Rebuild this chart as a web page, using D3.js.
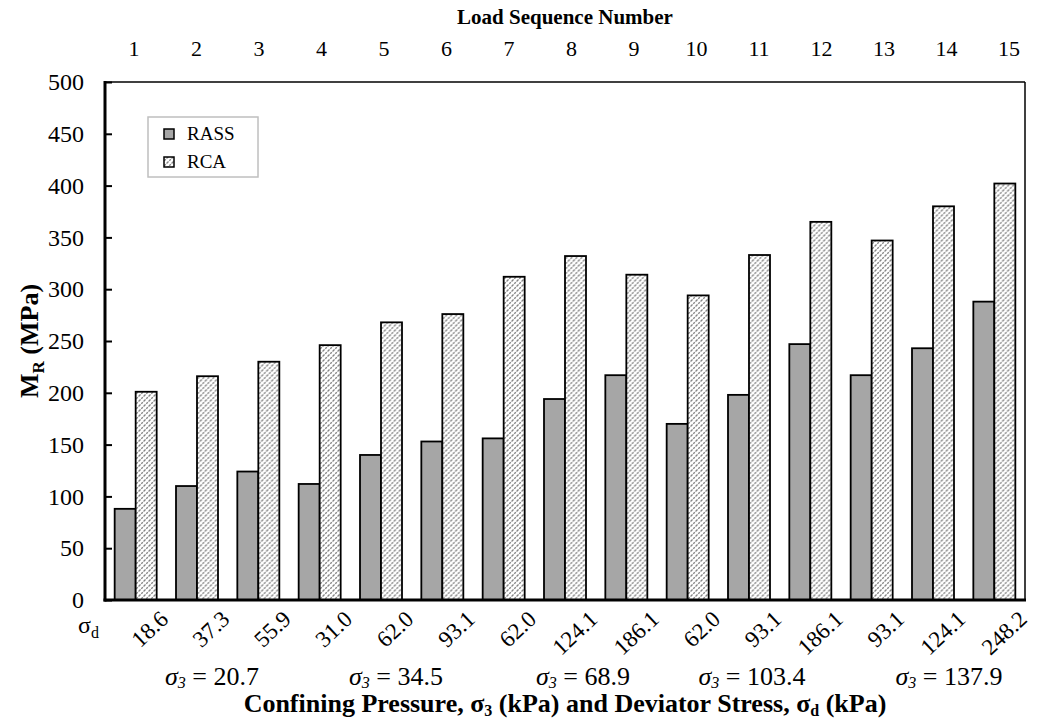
<!DOCTYPE html>
<html>
<head>
<meta charset="utf-8">
<script src="https://cdn.jsdelivr.net/npm/d3@7"></script>
<style>
  body { margin: 0; background: #fff; }
  text { font-family: "Liberation Serif", "Times New Roman", serif; fill: #000; }
</style>
</head>
<body>
<div id="chart"></div>
<script>
// data
const seqNumbers = d3.range(1, 16);
const deviatorStress = ["18.6","37.3","55.9","31.0","62.0","93.1","62.0","124.1","186.1","62.0","93.1","186.1","93.1","124.1","248.2"];
const confining = [
  {label: "20.7", mid: 2, dx: 15},
  {label: "34.5", mid: 5, dx: 15},
  {label: "68.9", mid: 8, dx: 18},
  {label: "103.4", mid: 11, dx: 3},
  {label: "137.9", mid: 14, dx: 16}
];
const rass = [88, 110, 124, 112, 140, 153, 156, 194, 217, 170, 198, 247, 217, 243, 288];
const rca  = [201, 216, 230, 246, 268, 276, 312, 332, 314, 294, 333, 365, 347, 380, 402];
const yTicks = d3.range(0, 501, 50);

const width = 1040, height = 722;
const margin = {top: 82, right: 15, bottom: 122, left: 105};

const svg = d3.select("#chart").append("svg")
  .attr("width", width)
  .attr("height", height);

// hatch for RCA bars
const defs = svg.append("defs");
const pat = defs.append("pattern")
  .attr("id", "hatch")
  .attr("patternUnits", "userSpaceOnUse")
  .attr("width", 5)
  .attr("height", 5);
pat.append("rect").attr("width", 5).attr("height", 5).attr("fill", "#fff");
pat.append("path")
  .attr("d", "M-1,6 L6,-1 M-1,1 L1,-1 M4,6 L6,4")
  .attr("stroke", "#858585")
  .attr("stroke-width", 1.3)
  .attr("stroke-dasharray", "2.2,1");

const x = d3.scaleBand()
  .domain(seqNumbers)
  .range([margin.left, width - margin.right])
  .paddingInner(0)
  .paddingOuter(0);

const xSub = d3.scaleBand()
  .domain(["RASS", "RCA"])
  .range([x.bandwidth() / 2 - 21, x.bandwidth() / 2 + 21]);

const y = d3.scaleLinear()
  .domain([0, 500])
  .range([height - margin.bottom, margin.top]);

// top axis (load sequence number)
const xTop = d3.scalePoint()
  .domain(seqNumbers)
  .range([134, 1009]);

svg.append("g")
  .selectAll("text")
  .data(seqNumbers)
  .join("text")
  .attr("x", d => xTop(d))
  .attr("y", 56)
  .attr("text-anchor", "middle")
  .style("font-size", "22px")
  .text(d => d);

svg.append("text")
  .attr("x", 565)
  .attr("y", 24)
  .attr("text-anchor", "middle")
  .style("font-size", "21px")
  .style("font-weight", "bold")
  .text("Load Sequence Number");

// bars
const groups = svg.append("g")
  .selectAll("g")
  .data(seqNumbers)
  .join("g")
  .attr("transform", d => `translate(${x(d)},0)`);

groups.append("rect")
  .attr("x", xSub("RASS"))
  .attr("width", xSub.bandwidth())
  .attr("y", (d, i) => y(rass[i]))
  .attr("height", (d, i) => y(0) - y(rass[i]))
  .attr("fill", "#a6a6a6")
  .attr("stroke", "#000")
  .attr("stroke-width", 1.8);

groups.append("rect")
  .attr("x", xSub("RCA"))
  .attr("width", xSub.bandwidth())
  .attr("y", (d, i) => y(rca[i]))
  .attr("height", (d, i) => y(0) - y(rca[i]))
  .attr("fill", "url(#hatch)")
  .attr("stroke", "#000")
  .attr("stroke-width", 1.8);

// frame: thin top/right
svg.append("line")
  .attr("x1", margin.left).attr("x2", width - margin.right)
  .attr("y1", y(500)).attr("y2", y(500))
  .attr("stroke", "#000").attr("stroke-width", 1.5);
svg.append("line")
  .attr("x1", width - margin.right).attr("x2", width - margin.right)
  .attr("y1", y(500)).attr("y2", y(0))
  .attr("stroke", "#000").attr("stroke-width", 1.5);

// y axis, ticks inside
const yAxis = d3.axisLeft(y)
  .tickValues(yTicks)
  .tickSize(-7)
  .tickPadding(21);

const yAxisGroup = svg.append("g")
  .attr("transform", `translate(${margin.left},0)`)
  .call(yAxis);
yAxisGroup.select(".domain").remove();
yAxisGroup.selectAll(".tick line").attr("stroke", "#000").attr("stroke-width", 2);
yAxisGroup.selectAll(".tick text")
  .style("font-family", "Liberation Serif, serif")
  .style("font-size", "24px");
yAxisGroup.append("line")
  .attr("y1", y(500) - 1).attr("y2", y(0) + 1.5)
  .attr("stroke", "#000").attr("stroke-width", 3);

// x baseline
svg.append("line")
  .attr("x1", margin.left - 1.5).attr("x2", width - margin.right + 1)
  .attr("y1", y(0)).attr("y2", y(0))
  .attr("stroke", "#000").attr("stroke-width", 3);

// y label
const yLab = svg.append("text")
  .attr("transform", `translate(38,${(y(0) + y(500)) / 2}) rotate(-90)`)
  .attr("text-anchor", "middle")
  .style("font-size", "26px")
  .style("font-weight", "bold");
yLab.append("tspan").text("M");
yLab.append("tspan").attr("dy", 6).style("font-size", "17px").text("R");
yLab.append("tspan").attr("dy", -6).text(" (MPa)");

// deviator stress labels, rotated
svg.append("g")
  .selectAll("text")
  .data(seqNumbers)
  .join("text")
  .attr("transform", d => `translate(${x(d) + x.bandwidth() / 2 + 34},621) rotate(-43)`)
  .attr("text-anchor", "end")
  .style("font-size", "23px")
  .text((d, i) => deviatorStress[i]);

const sd = svg.append("text")
  .attr("x", 78)
  .attr("y", 633)
  .style("font-size", "24px");
sd.append("tspan").text("σ");
sd.append("tspan").attr("dy", 5).style("font-size", "16px").text("d");

// confining pressure labels
confining.forEach(c => {
  const t = svg.append("text")
    .attr("x", x(c.mid) + x.bandwidth() / 2 + c.dx)
    .attr("y", 685)
    .attr("text-anchor", "middle")
    .style("font-size", "26px");
  t.append("tspan").style("font-style", "italic").text("σ");
  t.append("tspan").attr("dy", 3).style("font-style", "italic").style("font-size", "16px").text("3");
  t.append("tspan").attr("dy", -3).text(" = " + c.label);
});

// bottom title
const xt = svg.append("text")
  .attr("x", 565)
  .attr("y", 712)
  .attr("text-anchor", "middle")
  .style("font-size", "26px")
  .style("font-weight", "bold");
xt.append("tspan").text("Confining Pressure, σ");
xt.append("tspan").attr("dy", 4).style("font-size", "16px").text("3");
xt.append("tspan").attr("dy", -4).text(" (kPa) and Deviator Stress, σ");
xt.append("tspan").attr("dy", 4).style("font-size", "16px").text("d");
xt.append("tspan").attr("dy", -4).text(" (kPa)");

// legend
const legend = svg.append("g").attr("transform", "translate(148,117)");
legend.append("rect")
  .attr("width", 110).attr("height", 60)
  .attr("fill", "#fff")
  .attr("stroke", "#bfbfbf").attr("stroke-width", 1.5);
const legItems = [
  {name: "RASS", fill: "#a6a6a6"},
  {name: "RCA", fill: "url(#hatch)"}
];
legItems.forEach((it, i) => {
  legend.append("rect")
    .attr("x", 16).attr("y", 12 + i * 28)
    .attr("width", 10).attr("height", 10)
    .attr("fill", it.fill)
    .attr("stroke", "#000").attr("stroke-width", 1.5);
  legend.append("text")
    .attr("x", 39).attr("y", 23 + i * 28)
    .style("font-size", "19px")
    .text(it.name);
});
</script>
</body>
</html>
